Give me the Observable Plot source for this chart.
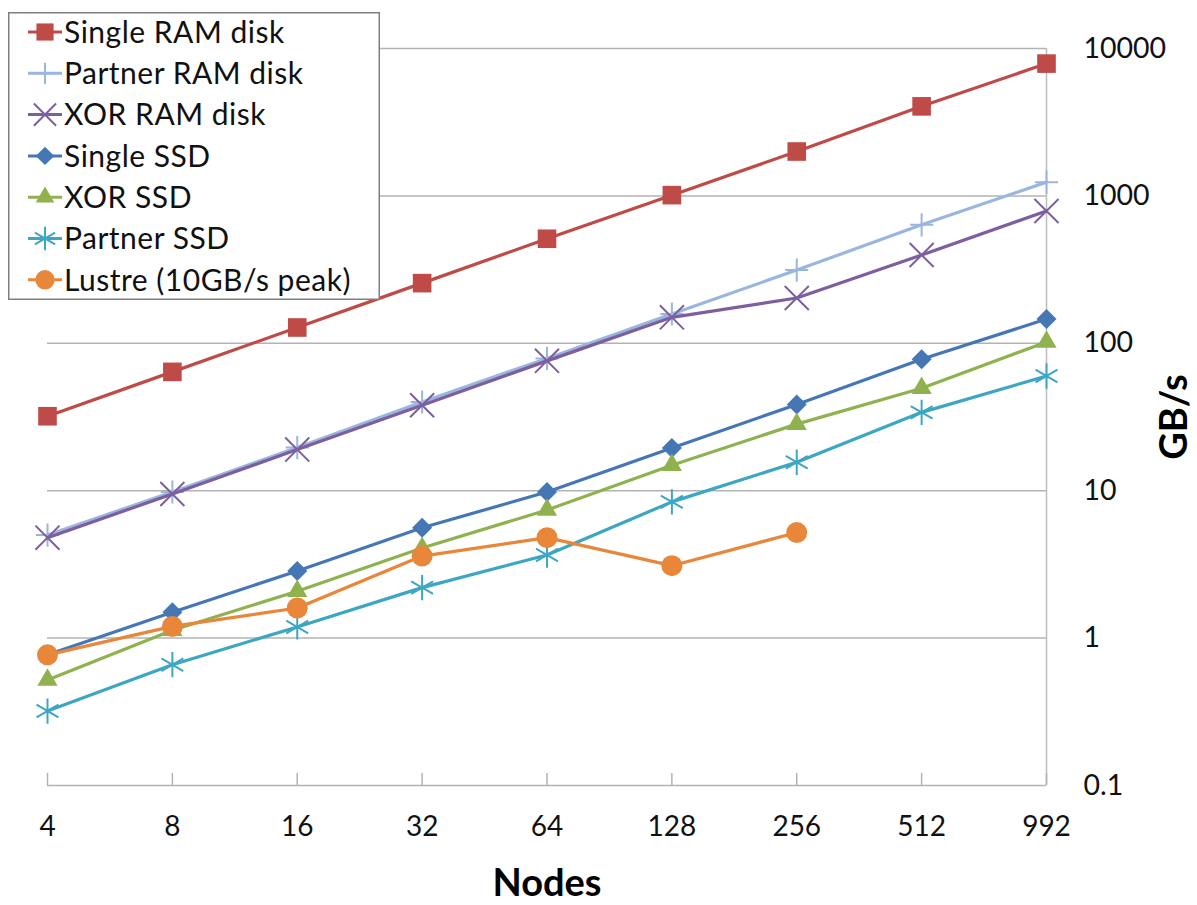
<!DOCTYPE html>
<html><head><meta charset="utf-8">
<script src="https://cdn.jsdelivr.net/npm/d3@7"></script>
<script src="https://cdn.jsdelivr.net/npm/@observablehq/plot@0.6"></script>
<style>
html,body{margin:0;padding:0;background:#fff;overflow:hidden}
#wrap{position:relative;width:1197px;height:905px;font-family:Lato,sans-serif}
#legend{position:absolute;left:8px;top:12px}
</style></head><body><div id="wrap"></div>
<script>
// ---- data ----
const nodes = ["4","8","16","32","64","128","256","512","992"];
const singleRam  = [32, 64, 128, 256, 512, 1012, 2000, 4050, 7900];
const partnerRam = [5, 9.8, 19.6, 40, 79, 158, 314, 636, 1240];
const xorRam     = [4.8, 9.5, 19, 38, 76, 150, 203, 397, 790];
const singleSsd  = [0.77, 1.5, 2.85, 5.6, 9.8, 19.5, 38.5, 78, 146];
const xorSsd     = [0.52, 1.13, 2.08, 4.08, 7.4, 14.9, 28.3, 49.6, 102];
const partnerSsd = [0.32, 0.66, 1.19, 2.2, 3.66, 8.4, 15.6, 34, 60];
const lustre     = [0.77, 1.2, 1.6, 3.6, 4.8, 3.1, 5.2];
const seriesNames = ["Single RAM disk","Partner RAM disk","XOR RAM disk","Single SSD","XOR SSD","Partner SSD","Lustre (10GB/s peak)"];
const seriesValues = [singleRam, partnerRam, xorRam, singleSsd, xorSsd, partnerSsd, lustre];
const yTicks = [0.1, 1, 10, 100, 1000, 10000];

// ---- styles ----
const styles = [
  {color:"#BE4B48", symbol:"square",   d3sym:d3.symbolSquare,   r:10.5, filled:true},
  {color:"#9AB6DF", symbol:"plus",     d3sym:d3.symbolPlus,     r:7.5,  filled:false},
  {color:"#7D5FA0", symbol:"times",    d3sym:d3.symbolTimes,    r:11,   filled:false},
  {color:"#4677B5", symbol:"diamond2", d3sym:d3.symbolDiamond2, r:9,    filled:true},
  {color:"#8FB24F", symbol:"triangle", d3sym:d3.symbolTriangle, r:7.5,  filled:true},
  {color:"#3DA6C2", symbol:"asterisk", d3sym:d3.symbolAsterisk, r:12,   filled:false},
  {color:"#E8873A", symbol:"circle",   d3sym:d3.symbolCircle,   r:10.5, filled:true}
];

const seriesData = seriesNames.map((name, k) =>
  seriesValues[k].map((v, i) => ({node: nodes[i], value: v, series: name})));

const marks = [
  Plot.gridY(yTicks, {stroke:"#b3b3b3", strokeOpacity:1, strokeWidth:1.5}),
  Plot.ruleX([nodes[nodes.length-1]], {stroke:"#bdbdbd", strokeWidth:1.5}),
  Plot.axisX({tickSize:-12, tickPadding:43, fontSize:28, stroke:"#b3b3b3", strokeWidth:1.5, label:null, fill:"#111"}),
  Plot.axisY({anchor:"right", ticks:yTicks, tickSize:0, tickPadding:37, fontSize:28.5, tickFormat:d=>String(d), label:null, fill:"#111"}),
  Plot.text(["Nodes"], {frameAnchor:"bottom", dy:98, lineAnchor:"middle", textAnchor:"middle", fontSize:38, fontWeight:"bold", fill:"#000"}),
  Plot.text(["GB/s"], {frameAnchor:"right", dx:128, rotate:-90, lineAnchor:"middle", textAnchor:"middle", fontSize:38, fontWeight:"bold", fill:"#000"})
];
seriesData.forEach((data, k) => {
  const s = styles[k];
  marks.push(Plot.lineY(data, {x:"node", y:"value", stroke:s.color, strokeWidth:3.2}));
  marks.push(Plot.dot(data, {x:"node", y:"value", symbol:s.symbol, r:s.r,
    fill: s.filled ? s.color : "none", stroke: s.filled ? "none" : s.color, strokeWidth:2}));
});

const chart = Plot.plot({
  width:1197, height:905,
  marginLeft:47, marginRight:151, marginTop:48, marginBottom:120,
  style:{fontFamily:"Lato, sans-serif", background:"#fff", color:"#111"},
  x:{type:"point", domain:nodes, padding:0, round:false},
  y:{type:"log", domain:[0.1, 10000]},
  marks
});
const wrap = document.getElementById("wrap");
wrap.appendChild(chart);

// ---- legend ----
const lw = 372, lh = 288;
const leg = d3.select(wrap).append("div").attr("id","legend")
  .append("svg").attr("width", lw).attr("height", lh)
  .style("font-family","Lato, sans-serif");
leg.append("rect").attr("x",0.75).attr("y",0.75).attr("width",lw-1.5).attr("height",lh-1.5)
  .attr("fill","#fff").attr("stroke","#7f7f7f").attr("stroke-width",1.5);
seriesNames.forEach((name, k) => {
  const s = styles[k];
  const cy = 20 + k*41.3;
  const g = leg.append("g").attr("transform", `translate(0,${cy})`);
  g.append("line").attr("x1",20).attr("x2",54).attr("y1",0).attr("y2",0)
    .attr("stroke",s.color).attr("stroke-width",3);
  g.append("path").attr("transform","translate(37,0)")
    .attr("d", d3.symbol(s.d3sym, Math.PI*s.r*s.r*0.85)())
    .attr("fill", s.filled ? s.color : "none")
    .attr("stroke", s.filled ? "none" : s.color).attr("stroke-width",2);
  g.append("text").attr("x",56).attr("y",0).attr("dy","0.36em")
    .attr("font-size",30).attr("letter-spacing","0.5px").attr("fill","#111").text(name);
});
</script></body></html>
